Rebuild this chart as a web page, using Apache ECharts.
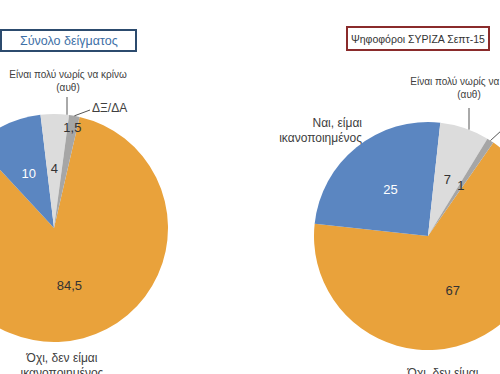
<!DOCTYPE html>
<html><head><meta charset="utf-8">
<script src="https://cdn.jsdelivr.net/npm/echarts@6/dist/echarts.min.js"></script>
<style>html,body{margin:0;padding:0;background:#fff}#c{width:500px;height:374px}</style>
</head><body><div id="c"></div>
<script>
// ---- data ----
const categories = ['Όχι, δεν είμαι\nικανοποιημένος', 'Ναι, είμαι\nικανοποιημένος', 'Είναι πολύ νωρίς να κρίνω\n(αυθ)', 'ΔΞ/ΔΑ'];
const totalSample = [84.5, 10, 4, 1.5];
const syrizaVoters = [67, 25, 7, 1];
const panelTitles = ['Σύνολο δείγματος', 'Ψηφοφόροι ΣΥΡΙΖΑ Σεπτ-15'];

// ---- styles / layout ----
const COLORS = ['#E9A23B', '#5B86C1', '#DCDCDC', '#A6A6A6'];
const VALUE_COLORS = ['#333333', '#ffffff', '#333333', '#333333'];
const FONT = '"Liberation Sans", Arial, sans-serif';
const TEXT = '#404040';

const panels = [
  { values: totalSample, center: [54, 228], r: 114, start: 77,
    valueDist: [0.5, 0.5, 0.5, 0.9],
    names: [
      { dx: 8, dy: 122, align: 'center', va: 'top', size: 12 },
      null,
      { dx: 14, dy: -134, align: 'center', va: 'bottom', size: 10, line: [[13, -131], ['x', 13]] },
      { dx: 38, dy: -120, align: 'left', va: 'middle', size: 12, line: [['mid'], [36, -118]] }
    ] },
  { values: syrizaVoters, center: [428, 236], r: 114, start: 55,
    valueDist: [0.5, 0.5, 0.5, 0.5],
    names: [
      { dx: 15, dy: 129, align: 'center', va: 'top', size: 12 },
      { dx: -66, dy: -106, align: 'right', va: 'middle', size: 12 },
      { dx: 41, dy: -135, align: 'center', va: 'bottom', size: 10, line: [[41, -128], ['x', 41]] },
      { dx: 77, dy: -108, align: 'left', va: 'middle', size: 12, line: [['mid'], [74, -106]] }
    ] }
];

function midAngle(p, i) {
  const tot = p.values.reduce((a, b) => a + b, 0);
  let before = 0;
  for (let k = 0; k < i; k++) before += p.values[k];
  return (p.start - (before + p.values[i] / 2) / tot * 360) * Math.PI / 180;
}
function resolvePoint(p, i, spec) {
  const [cx, cy] = p.center;
  if (spec[0] === 'mid') {
    const a = midAngle(p, i);
    return [cx + Math.cos(a) * p.r, cy - Math.sin(a) * p.r];
  }
  if (spec[0] === 'x') {
    const dx = spec[1];
    return [cx + dx, cy - Math.sqrt(p.r * p.r - dx * dx)];
  }
  return [cx + spec[0], cy + spec[1]];
}
const fmt = v => String(v).replace('.', ',');

const series = [];
panels.forEach((p, pi) => {
  // main pie with value labels
  series.push({
    type: 'pie', center: p.center, radius: [0, p.r], startAngle: p.start, clockwise: true,
    silent: true, avoidLabelOverlap: false,
    data: p.values.map((v, i) => ({
      value: v, name: categories[i],
      itemStyle: { color: COLORS[i] },
      label: { color: VALUE_COLORS[i] }
    })),
    label: { show: true, position: 'inside', formatter: d => fmt(d.value),
      fontFamily: FONT, fontSize: 13 },
    labelLine: { show: false },
    labelLayout: function (prm) {
      const f = p.valueDist[prm.dataIndex];
      if (f === 0.5) return {};
      const a = midAngle(p, prm.dataIndex);
      return { x: p.center[0] + Math.cos(a) * f * p.r, y: p.center[1] - Math.sin(a) * f * p.r,
        align: 'center', verticalAlign: 'middle' };
    }
  });
  // category name labels (transparent carrier)
  series.push({
    type: 'pie', center: p.center, radius: [0, p.r], startAngle: p.start, clockwise: true,
    silent: true, avoidLabelOverlap: false, z: 3,
    itemStyle: { color: 'rgba(0,0,0,0)' },
    data: p.values.map((v, i) => {
      const n = p.names[i];
      return {
        value: v, name: categories[i],
        label: n ? { show: true, fontSize: n.size, lineHeight: Math.round(n.size * 1.25) } : { show: false },
        labelLine: { show: !!(n && n.line) }
      };
    }),
    label: { position: 'outside', formatter: '{b}', color: TEXT, fontFamily: FONT, overflow: 'none', width: 220 },
    labelLine: { lineStyle: { color: '#555555', width: 1 } },
    labelLayout: function (prm) {
      const n = p.names[prm.dataIndex];
      if (!n) return {};
      const out = { x: p.center[0] + n.dx, y: p.center[1] + n.dy, align: n.align, verticalAlign: n.va };
      if (n.line) out.labelLinePoints = n.line.map(s => resolvePoint(p, prm.dataIndex, s));
      return out;
    }
  });
});

const chart = echarts.init(document.getElementById('c'), null, { renderer: 'svg' });
chart.setOption({
  animation: false,
  backgroundColor: '#ffffff',
  title: [
    { text: panelTitles[0], left: 1, top: 30, padding: [4, 19], borderColor: '#2C4B6E', borderWidth: 2,
      textStyle: { color: '#3E6FA6', fontSize: 12.5, fontWeight: 'normal', fontFamily: FONT } },
    { text: panelTitles[1], left: 347, top: 27, padding: [6, 4], borderColor: '#8A2B2B', borderWidth: 2,
      textStyle: { color: '#333333', fontSize: 10.5, fontWeight: 'normal', fontFamily: FONT } }
  ],
  series: series
});
</script>
</body></html>
